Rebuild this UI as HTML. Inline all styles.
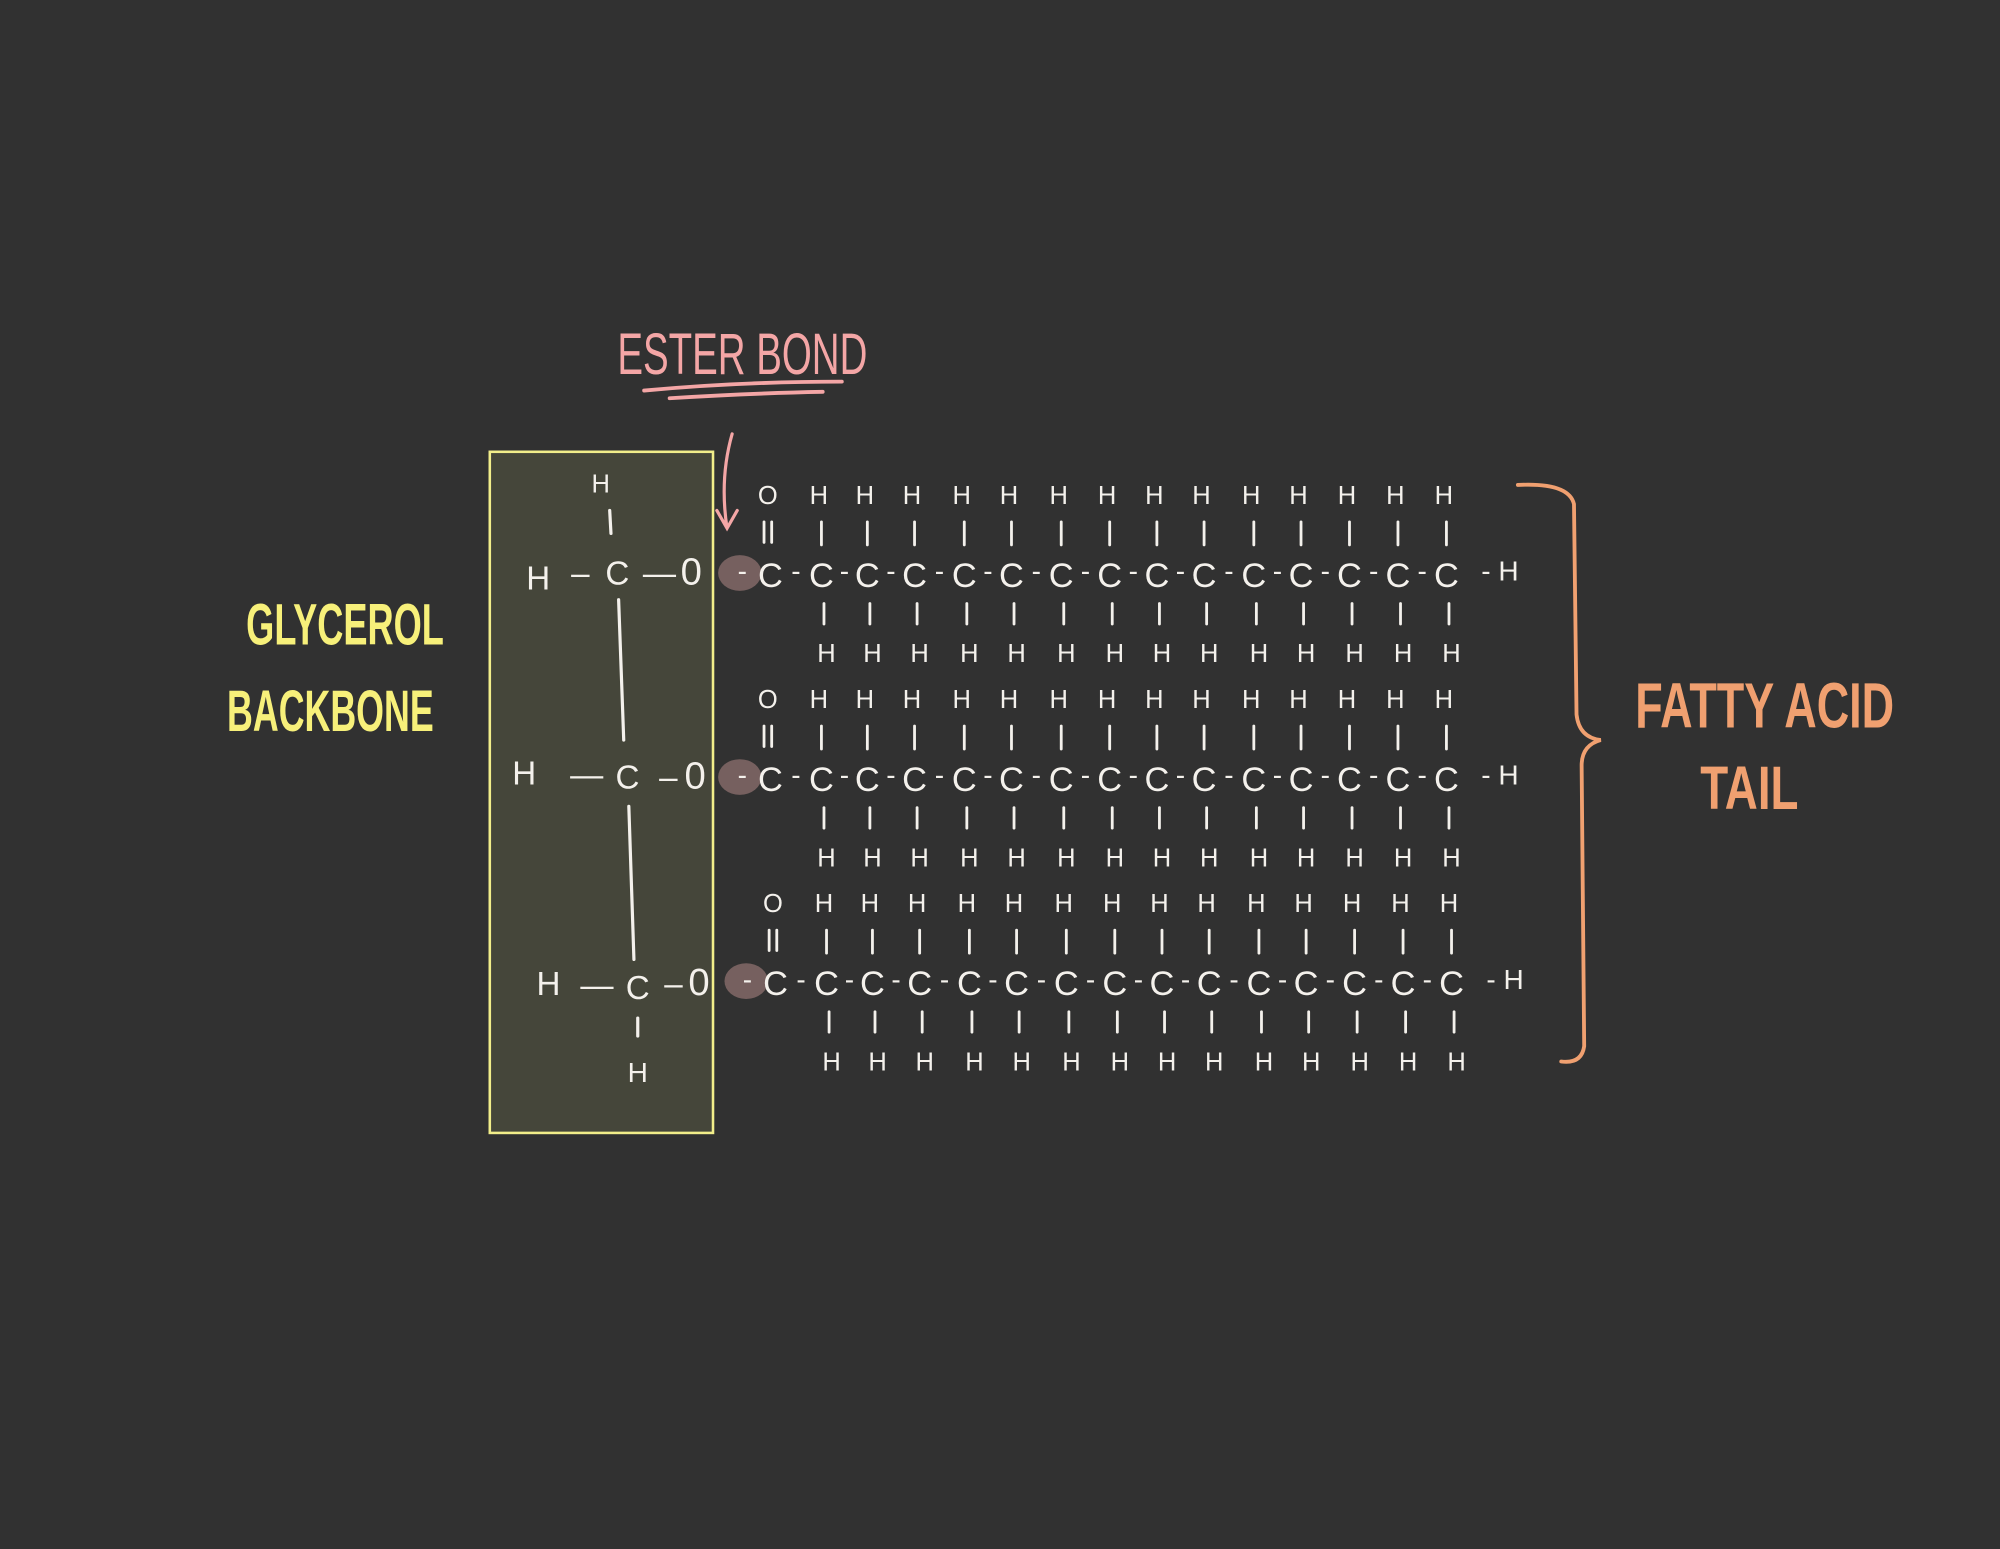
<!DOCTYPE html>
<html><head><meta charset="utf-8"><style>
html,body{margin:0;padding:0;background:#313131;}
svg{display:block}
text{font-family:"Liberation Sans",sans-serif;}
</style></head><body>
<svg width="2000" height="1549" viewBox="0 0 1568 1214" xmlns="http://www.w3.org/2000/svg">
<rect x="0" y="0" width="1568" height="1214" fill="#313131"/>
<rect x="384" y="354" width="175" height="534" fill="#45463a" stroke="#f2ee8a" stroke-width="2"/>
<g fill="#f4f1ec" font-size="26" text-anchor="middle">
<text x="471" y="386" font-size="20">H</text>
<text x="422" y="462">H</text><text x="455" y="458">–</text><text x="484" y="458">C</text><text x="517" y="458">—</text><text x="542" y="458" font-size="30">0</text>
<text x="411" y="615">H</text><text x="460" y="616">—</text><text x="492" y="618">C</text><text x="524" y="618">–</text><text x="545" y="618" font-size="30">0</text>
<text x="430" y="780">H</text><text x="468" y="781">—</text><text x="500" y="783">C</text><text x="528" y="780">–</text><text x="548" y="780" font-size="30">0</text>
<text x="500" y="848" font-size="22">H</text>
</g>
<g stroke="#f4f1ec" stroke-width="2.5" fill="none" stroke-linecap="round">
<line x1="478" y1="400" x2="479" y2="418"/>
<line x1="485" y1="470" x2="489" y2="580"/>
<line x1="493" y1="632" x2="497" y2="752"/>
<line x1="500" y1="798" x2="500" y2="812"/>
</g>
<g fill="#76605f">
<ellipse cx="580" cy="449" rx="17" ry="14"/>
<ellipse cx="580" cy="609" rx="17" ry="14"/>
<ellipse cx="585" cy="769" rx="17" ry="14"/>
</g>
<g id="chains" fill="#f4f1ec" font-size="26" text-anchor="middle"></g>
<g stroke="#f4f1ec" stroke-width="2.2" id="bonds" stroke-linecap="round"></g>
<text x="193" y="505" fill="#f7f07a" font-size="46" font-weight="bold" textLength="155" lengthAdjust="spacingAndGlyphs">GLYCEROL</text>
<text x="178" y="573" fill="#f7f07a" font-size="46" font-weight="bold" textLength="162" lengthAdjust="spacingAndGlyphs">BACKBONE</text>
<text x="484" y="293" fill="#f4a6a6" font-size="46" textLength="196" lengthAdjust="spacingAndGlyphs">ESTER BOND</text>
<path d="M505 306 Q580 299 660 299" stroke="#f4a6a6" stroke-width="3" fill="none" stroke-linecap="round"/>
<path d="M525 312 Q590 308 645 307" stroke="#f4a6a6" stroke-width="3" fill="none" stroke-linecap="round"/>
<path d="M574 340 Q564 375 570 414 M562 400 L570 414 L578 400" stroke="#f4a6a6" stroke-width="2.5" fill="none" stroke-linecap="round"/>
<path d="M1190 380 Q1230 378 1234 395 L1236 560 Q1238 578 1255 580 Q1240 584 1240 600 L1242 820 Q1240 834 1224 832" stroke="#f0a070" stroke-width="3" fill="none" stroke-linecap="round"/>
<text x="1282" y="570" fill="#f0a070" font-size="50" font-weight="bold" textLength="203" lengthAdjust="spacingAndGlyphs">FATTY ACID</text>
<text x="1333" y="634" fill="#f0a070" font-size="48" font-weight="bold" textLength="77" lengthAdjust="spacingAndGlyphs">TAIL</text>
<script>
var ns="http://www.w3.org/2000/svg";
var g=document.getElementById('chains'),b=document.getElementById('bonds');
var xs=[604,644,680,717,756,793,832,870,907,944,983,1020,1058,1096,1134];
function t(x,y,s,fs){var e=document.createElementNS(ns,'text');e.setAttribute('x',x);e.setAttribute('y',y);if(fs)e.setAttribute('font-size',fs);e.textContent=s;g.appendChild(e);}
function l(x1,y1,x2,y2){var e=document.createElementNS(ns,'line');e.setAttribute('x1',x1);e.setAttribute('y1',y1);e.setAttribute('x2',x2);e.setAttribute('y2',y2);b.appendChild(e);}
[[447,0],[607,0],[767,4]].forEach(function(r){var y=r[0],dx=r[1];
 t(582+dx,y+8,'-',22);
 xs.forEach(function(x,i){x+=dx;t(x,y+13,'C',27);
  if(i<14)t((x+xs[i+1]+dx)/2,y+8,'-',22);
  if(i==0){t(x-2,y-52,'O',20);l(x-5,y-38,x-5,y-22);l(x+1,y-38,x+1,y-22);}
  else{t(x-2,y-52,'H',20);l(x,y-38,x,y-20);l(x+2,y+26,x+2,y+42);t(x+4,y+72,'H',20);}
 });
 t(1176+dx,y+8,'- H',22);
});
</script>
</svg>
</body></html>
